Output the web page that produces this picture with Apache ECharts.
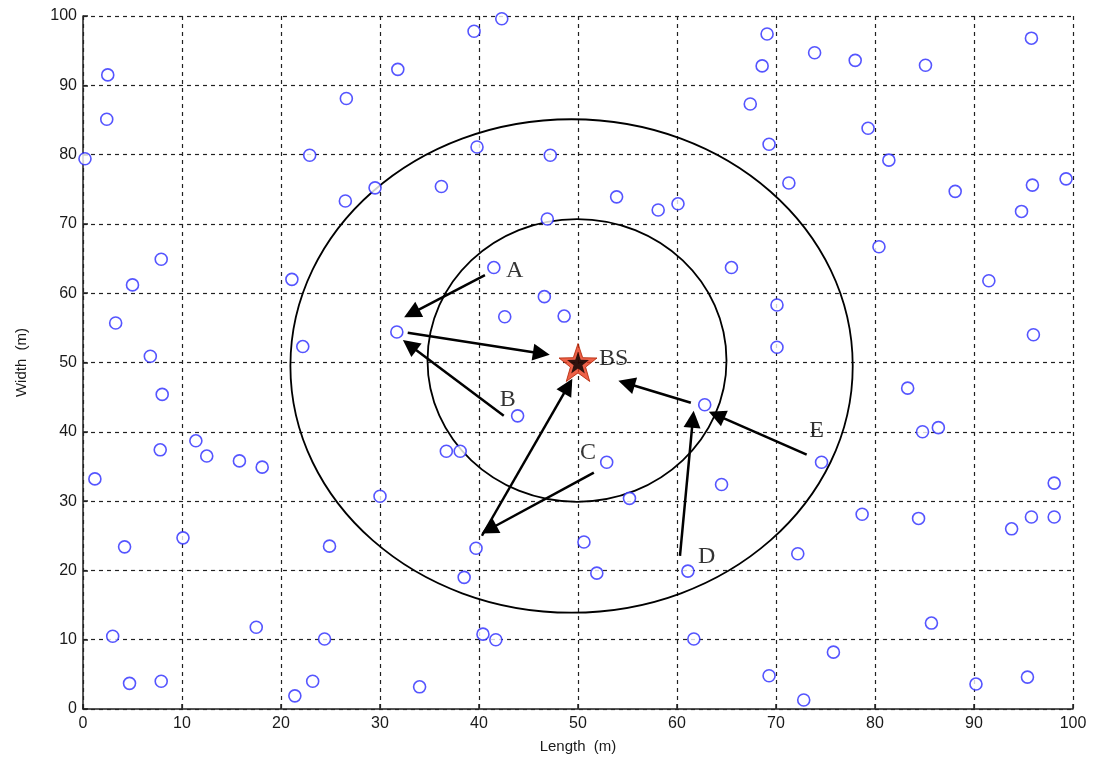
<!DOCTYPE html>
<html><head><meta charset="utf-8">
<script src="https://cdn.jsdelivr.net/npm/echarts@6/dist/echarts.min.js"></script>
<style>html,body{margin:0;padding:0;background:#fff}#c{width:1098px;height:765px}</style>
</head><body><div id="c"></div>
<script>
const nodes = [
[42.3,99.6],[39.5,97.8],[31.8,92.3],[26.6,88.1],[22.9,79.9],[39.8,81.1],[47.2,79.9],[29.5,75.2],[26.5,73.3],[36.2,75.4],[46.9,70.7],
[69.1,97.4],[73.9,94.7],[78.0,93.6],[68.6,92.8],[67.4,87.3],[69.3,81.5],[71.3,75.9],[53.9,73.9],[58.1,72.0],[60.1,72.9],
[95.8,96.8],[85.1,92.9],[79.3,83.8],[81.4,79.2],[88.1,74.7],[95.9,75.6],[99.3,76.5],[94.8,71.8],[80.4,66.7],
[2.5,91.5],[2.4,85.1],[0.2,79.4],
[7.9,64.9],[5.0,61.2],[3.3,55.7],[6.8,50.9],[8.0,45.4],[7.8,37.4],[1.2,33.2],[11.4,38.7],[12.5,36.5],[15.8,35.8],[18.1,34.9],[21.1,62.0],[22.2,52.3],
[41.5,63.7],[31.7,54.4],[46.6,59.5],[42.6,56.6],[48.6,56.7],[43.9,42.3],[36.7,37.2],[38.1,37.2],[30.0,30.7],
[65.5,63.7],[70.1,58.3],[70.1,52.2],[62.8,43.9],[52.9,35.6],[74.6,35.6],[64.5,32.4],
[91.5,61.8],[96.0,54.0],[83.3,46.3],[84.8,40.0],[86.4,40.6],[98.1,32.6],
[4.2,23.4],[10.1,24.7],[3.0,10.5],[4.7,3.7],[7.9,4.0],[17.5,11.8],[21.4,1.9],
[24.9,23.5],[39.7,23.2],[38.5,19.0],[24.4,10.1],[40.4,10.8],[41.7,10.0],[23.2,4.0],[34.0,3.2],
[55.2,30.4],[50.6,24.1],[51.9,19.6],[61.1,19.9],[72.2,22.4],[61.7,10.1],[75.8,8.2],[69.3,4.8],[72.8,1.3],
[78.7,28.1],[84.4,27.5],[93.8,26.0],[95.8,27.7],[98.1,27.7],[85.7,12.4],[90.2,3.6],[95.4,4.6]
];
const baseStation = [[50, 50]];
// [cx, cy, rx, ry] in data units
const rings = [[49.9, 50.3, 15.1, 20.4], [49.35, 49.5, 28.4, 35.6]];
const arrows = [
  [[40.6, 62.6], [33.2, 57.1]],
  [[32.8, 54.3], [46.3, 51.3]],
  [[42.5, 42.3], [33.0, 52.5]],
  [[51.6, 34.1], [41.0, 25.9]],
  [[40.3, 25.0], [49.0, 46.6]],
  [[60.3, 22.1], [61.6, 41.8]],
  [[61.4, 44.2], [54.9, 47.0]],
  [[73.1, 36.7], [64.0, 42.4]]
];
const labels = [
  ['A', 43.6, 63.3], ['B', 42.9, 44.6], ['C', 51.0, 37.0], ['D', 63.0, 22.0], ['E', 74.1, 40.2], ['BS', 53.6, 50.6]
];

const star = 'path://M0,-10 L2.35,-3.24 L9.51,-3.09 L3.80,1.24 L5.88,8.09 L0,4 L-5.88,8.09 L-3.80,1.24 L-9.51,-3.09 L-2.35,-3.24 Z';
const chart = echarts.init(document.getElementById('c'));
const axisCommon = {
  min: 0, max: 100, interval: 10,
  axisLine: {show: true, onZero: false, lineStyle: {color: '#222', width: 1.5}},
  axisTick: {show: true, inside: true, length: 5, lineStyle: {color: '#222', width: 1.5}},
  axisLabel: {color: '#1a1a1a', fontFamily: 'Liberation Sans', fontSize: 16},
  splitLine: {show: true, lineStyle: {color: '#222', type: [4, 4], width: 1.2}},
  nameLocation: 'middle',
  nameTextStyle: {color: '#1a1a1a', fontFamily: 'Liberation Sans', fontSize: 15}
};
chart.setOption({
  animation: false,
  grid: {left: 83, right: 25, top: 16, bottom: 56},
  xAxis: Object.assign({}, axisCommon, {type: 'value', name: 'Length  (m)', nameGap: 30,
    axisLabel: Object.assign({}, axisCommon.axisLabel, {margin: 7})}),
  yAxis: Object.assign({}, axisCommon, {type: 'value', name: 'Width  (m)', nameGap: 54,
    axisLabel: Object.assign({}, axisCommon.axisLabel, {margin: 6})}),
  series: [
    {type: 'custom', coordinateSystem: 'cartesian2d', data: rings, z: 2, silent: true,
      renderItem: function (params, api) {
        const c = api.coord([api.value(0), api.value(1)]);
        const s = api.size([api.value(2), api.value(3)]);
        return {type: 'ellipse', shape: {cx: c[0], cy: c[1], rx: s[0], ry: s[1]},
          style: {fill: null, stroke: '#000', lineWidth: 1.8}};
      }},
    {type: 'scatter', data: nodes, symbol: 'circle', symbolSize: 12, z: 3,
      itemStyle: {color: '#fff', borderColor: '#2a2aff', borderWidth: 1.6}},
    {type: 'lines', coordinateSystem: 'cartesian2d', z: 4,
      data: arrows.map(a => ({coords: a})),
      symbol: ['none', 'triangle'], symbolSize: [0, 17],
      lineStyle: {color: '#000', width: 2.5, opacity: 1}},
    {type: 'scatter', data: baseStation, symbol: star, symbolSize: 38, z: 5,
      itemStyle: {color: '#e83a1a', borderColor: '#b02000', borderWidth: 1}},
    {type: 'scatter', data: baseStation, symbol: star, symbolSize: 22, z: 6,
      itemStyle: {color: '#000'}},
    {type: 'scatter', data: labels.map(l => ({name: l[0], value: [l[1], l[2]]})), symbolSize: 0, z: 7,
      label: {show: true, position: 'inside', formatter: '{b}', color: '#000',
        fontFamily: 'Liberation Serif', fontSize: 24}}
  ]
});
</script></body></html>
